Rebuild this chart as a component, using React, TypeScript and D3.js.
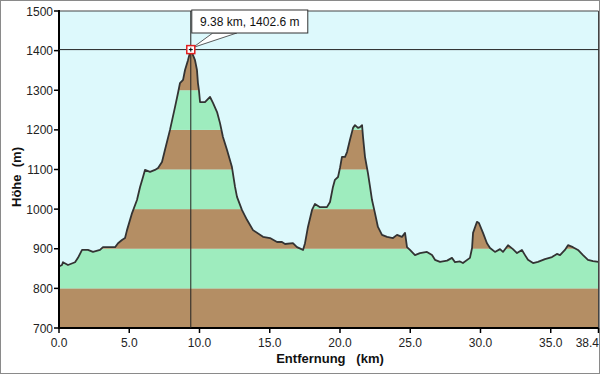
import React from 'react';
import * as d3 from 'd3';

// elevation profile
const distKm = [
  0.0, 0.21, 0.28, 0.64, 1.14, 1.35, 1.64, 2.06, 2.42, 2.92, 3.13, 3.49, 3.99, 4.2, 4.48, 4.7, 4.84,
  5.2, 5.55, 5.77, 5.98, 6.12, 6.48, 6.83, 7.05, 7.33, 7.54, 7.9, 8.26, 8.47, 8.61, 8.83, 8.97, 9.18,
  9.38, 9.68, 9.82, 9.89, 9.96, 10.04, 10.39, 10.75, 10.96, 11.25, 11.46, 11.67, 11.96, 12.31, 12.53,
  12.67, 13.02, 13.38, 13.81, 14.52, 15.02, 15.52, 15.87, 16.09, 16.65, 16.94, 17.37, 17.51, 17.72,
  18.01, 18.22, 18.58, 19.07, 19.29, 19.5, 19.64, 19.86, 20.0, 20.14, 20.36, 20.5, 20.71, 20.93, 21.07,
  21.28, 21.42, 21.57, 21.64, 21.78, 21.99, 22.14, 22.28, 22.49, 22.7, 22.99, 23.35, 23.77, 24.06,
  24.41, 24.63, 24.77, 24.98, 25.34, 25.69, 26.19, 26.55, 26.76, 27.12, 27.62, 27.97, 28.19, 28.54,
  28.75, 29.25, 29.4, 29.47, 29.75, 29.89, 30.18, 30.46, 30.68, 31.03, 31.39, 31.6, 31.96, 32.31,
  32.6, 32.95, 33.17, 33.38, 33.74, 34.09, 34.59, 35.09, 35.44, 35.66, 36.01, 36.23, 36.58, 36.94,
  37.3, 37.65, 38.01, 38.4,
];
const heightM = [
  855, 859, 866, 859, 866, 877, 897, 897, 892, 897, 904, 904, 904, 914, 922, 927, 947,
  990, 1023, 1056, 1081, 1099, 1094, 1099, 1104, 1119, 1149, 1200, 1258, 1293, 1318, 1326, 1351, 1376,
  1402.6, 1376, 1351, 1318, 1300, 1270, 1270, 1283, 1268, 1245, 1217, 1182, 1149, 1106, 1056,
  1031, 998, 973, 947, 930, 927, 917, 917, 912, 914, 904, 897, 914, 955,
  998, 1013, 1005, 1005, 1018, 1056, 1074, 1081, 1104, 1132, 1132, 1144, 1175, 1205, 1212,
  1205, 1207, 1212, 1182, 1132, 1091, 1056, 1023, 990, 955, 935, 930, 927, 935,
  930, 940, 904, 897, 884, 889, 892, 884, 872, 867, 870, 877, 866, 868,
  864, 877, 902, 940, 968, 965, 940, 914, 902, 892, 899, 892, 909, 899,
  889, 897, 884, 872, 864, 867, 874, 879, 887, 884, 897, 909, 904, 897,
  884, 872, 869, 867,
];

const xTicks = [0, 5, 10, 15, 20, 25, 30, 35, 38.4];
const yTicks = [700, 800, 900, 1000, 1100, 1200, 1300, 1400, 1500];
const bandStarts = [700, 800, 900, 1000, 1100, 1200, 1300, 1400];

const cursorKm = 9.38;
const cursorM = 1402.6;

const W = 600;
const H = 375;
const left = 59, right = 598.5, top = 11, bottom = 328;

const BROWN = '#b48e64';
const GREEN = '#9eecbe';
const SKY = '#ddf9fc';
const FONT = '"Liberation Sans", Arial, sans-serif';

export default function App() {
  const x = d3.scaleLinear().domain([0, 38.4]).range([left, right]);
  const y = d3.scaleLinear().domain([700, 1500]).range([bottom, top]);

  const pts: [number, number][] = distKm.map((d, i) => [d, heightM[i]]);

  const area = d3.area<[number, number]>()
    .x(d => x(d[0]))
    .y0(y(700))
    .y1(d => y(d[1]));
  const line = d3.line<[number, number]>()
    .x(d => x(d[0]))
    .y(d => y(d[1]));

  const cx = x(cursorKm);
  const cy = y(cursorM);
  const lastTick = xTicks[xTicks.length - 1];

  return (
    <div style={{ position: 'fixed', left: 0, top: 0 }}>
      <svg width={W} height={H} style={{ display: 'block', fontFamily: FONT }}>
        <rect x={0} y={0} width={W} height={H} fill="#fff" />
        <rect x={0.5} y={0.5} width={W - 1} height={373} fill="none" stroke="#8a8a8a" />

        <defs>
          <clipPath id="profile">
            <path d={area(pts) ?? ''} />
          </clipPath>
        </defs>

        {/* plot background */}
        <rect x={left} y={top} width={right - left} height={bottom - top} fill={SKY} />

        {/* coloured height bands under the profile */}
        <g clipPath="url(#profile)">
          {bandStarts.map((v, i) => (
            <rect key={v} x={left} width={right - left}
              y={y(v + 100)} height={y(v) - y(v + 100)}
              fill={i % 2 === 0 ? BROWN : GREEN} />
          ))}
        </g>
        <path d={line(pts) ?? ''} fill="none" stroke="#333" strokeWidth={1.8} strokeLinejoin="round" />

        {/* frame */}
        <line x1={left} x2={right} y1={top} y2={top} stroke="#444" strokeWidth={1} />
        <line x1={right} x2={right} y1={top} y2={bottom} stroke="#444" strokeWidth={1} />
        <line x1={left} x2={left} y1={top - 1} y2={bottom + 1} stroke="#000" strokeWidth={2} />
        <line x1={left - 1} x2={right} y1={bottom} y2={bottom} stroke="#000" strokeWidth={2} />

        {/* y axis */}
        {yTicks.map(t => (
          <g key={t}>
            <line x1={left - 5} x2={left} y1={y(t)} y2={y(t)} stroke="#000" strokeWidth={1.5} />
            <text x={left - 6} y={y(t) + 4.5} textAnchor="end" fontSize={12} fill="#222">{t}</text>
          </g>
        ))}
        {/* x axis */}
        {xTicks.map(t => (
          <g key={t}>
            <line x1={x(t)} x2={x(t)} y1={bottom} y2={bottom + 5} stroke="#000" strokeWidth={1.5} />
            <text x={t === lastTick ? W - 1 : x(t)} y={bottom + 19}
              textAnchor={t === lastTick ? 'end' : 'middle'} fontSize={12} fill="#222">
              {d3.format('.1f')(t)}
            </text>
          </g>
        ))}

        <text x={330} y={363} textAnchor="middle" fontSize={13} fontWeight="bold" fill="#111"
          style={{ whiteSpace: 'pre' }}>{'Entfernung   (km)'}</text>
        <text transform="translate(21,177) rotate(-90)" textAnchor="middle" fontSize={13}
          fontWeight="bold" fill="#111" style={{ whiteSpace: 'pre' }}>{'Höhe  (m)'}</text>

        {/* cursor */}
        <line x1={left} x2={right} y1={cy} y2={cy} stroke="#222" strokeWidth={1} />
        <line x1={cx} x2={cx} y1={top} y2={bottom} stroke="#222" strokeWidth={1} />
        <path d={`M${cx + 2},${cy - 2}L${cx + 22},${top + 22}L${cx + 46},${top + 22}Z`}
          fill="#fff" stroke="#333" strokeWidth={0.8} />
        <rect x={cx + 1} y={top - 1} width={116} height={23} fill="#fff" stroke="#333" strokeWidth={1} />
        <text x={cx + 59} y={top + 15} textAnchor="middle" fontSize={12} fill="#111">
          {`${cursorKm.toFixed(2)} km, ${cursorM.toFixed(1)} m`}
        </text>
        <rect x={cx - 4} y={cy - 4} width={8} height={8} fill="#fff" stroke="#e02020" strokeWidth={1.5} />
        <line x1={cx - 2} x2={cx + 2} y1={cy} y2={cy} stroke="#000" strokeWidth={1} />
        <line x1={cx} x2={cx} y1={cy - 2} y2={cy + 2} stroke="#000" strokeWidth={1} />
      </svg>
    </div>
  );
}
